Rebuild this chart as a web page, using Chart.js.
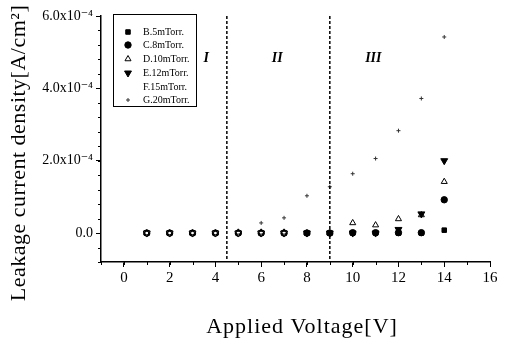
<!DOCTYPE html>
<html><head><meta charset="utf-8">
<script src="https://cdn.jsdelivr.net/npm/chart.js@4.4.1/dist/chart.umd.min.js"></script>
<style>html,body{margin:0;padding:0;background:#fff}#wrap{width:505px;height:342px}</style>
</head><body><div id="wrap"><canvas id="c" width="505" height="342"></canvas></div>
<script>
const voltages = [1,2,3,4,5,6,7,8,9,10,11,12,13,14];
const seriesNames = ['B.5mTorr.','C.8mTorr.','D.10mTorr.','E.12mTorr.','F.15mTorr.','G.20mTorr.'];
const seriesB = [0,0,0,0,0,0,0,0,0,0,0,0,0,0.08e-4];
const seriesC = [0,0,0,0,0,0,0,0,0,0.01e-4,0.01e-4,0.01e-4,0.01e-4,0.92e-4];
const seriesD = [0,0,0,0,0.02e-4,0.02e-4,0.02e-4,0,0,0.28e-4,0.22e-4,0.39e-4,0.5e-4,1.42e-4];
const seriesE = [0,0,0,0,0,0,0,0,0,0,0,0.1e-4,0.53e-4,2.0e-4];
const seriesF = [0,0,0,0,0,0,0,null,null,null,null,null,null,null];
const seriesG = [0,0,0,0,0,0.28e-4,0.42e-4,1.03e-4,1.28e-4,1.64e-4,2.06e-4,2.83e-4,3.72e-4,5.42e-4];
const xTicks = [0,2,4,6,8,10,12,14,16];
const yTicks = [0,2e-4,4e-4,6e-4];
const yTickLabels = ['0.0','2.0x10\u207B\u2074','4.0x10\u207B\u2074','6.0x10\u207B\u2074'];
const regionBounds = [4.5, 9];
const regionLabels = [['I',3.6],['II',6.7],['III',10.9]];

const styles = [
  {pointStyle:'rect', radius:3.2, bg:'#000', bc:'#000', rot:0, order:5},
  {pointStyle:'circle', radius:3.2, bg:'#000', bc:'#000', rot:0, order:4},
  {pointStyle:'triangle', radius:3.5, bg:'rgba(255,255,255,0)', bc:'#000', rot:0, order:0},
  {pointStyle:'triangle', radius:4, bg:'#000', bc:'#000', rot:180, order:3},
  {pointStyle:'triangle', radius:3.5, bg:'#fff', bc:'#000', rot:180, order:1},
  {pointStyle:'cross', radius:2, bg:'#000', bc:'#333', rot:0, order:2}
];
const legendMarkerColor = ['#000','#000','#000','#000','#fff','#333'];
const allSeries = [seriesB, seriesC, seriesD, seriesE, seriesF, seriesG];

const datasets = allSeries.map((s,i)=>({
  label: seriesNames[i],
  order: styles[i].order,
  data: voltages.map((v,j)=>({x:v, y:s[j]})),
  pointStyle: styles[i].pointStyle,
  pointRadius: styles[i].radius,
  pointBackgroundColor: styles[i].bg,
  pointBorderColor: styles[i].bc,
  pointBorderWidth: 1,
  pointRotation: styles[i].rot,
  showLine: false
}));

const SERIF = '"Liberation Serif", "DejaVu Serif", serif';

const overlay = {
  id:'overlay',
  afterDraw(chart){
    const ctx = chart.ctx, xs = chart.scales.x, ys = chart.scales.y, a = chart.chartArea;
    ctx.save();
    // minor ticks
    ctx.strokeStyle='#000'; ctx.lineWidth=1;
    for(let v=-0.8e-4; v<=6e-4+1e-9; v+=0.4e-4){
      const y = Math.round(ys.getPixelForValue(v))+0.5;
      ctx.beginPath(); ctx.moveTo(a.left-3,y); ctx.lineTo(a.left,y); ctx.stroke();
    }
    for(let v=-1; v<=16; v+=1){
      const x = Math.round(xs.getPixelForValue(v))+0.5;
      ctx.beginPath(); ctx.moveTo(x,a.bottom); ctx.lineTo(x,a.bottom+3); ctx.stroke();
    }
    // dashed region lines
    ctx.setLineDash([3,2]); ctx.lineWidth=1.5;
    regionBounds.forEach(b=>{
      const x = xs.getPixelForValue(b);
      ctx.beginPath(); ctx.moveTo(x,a.top); ctx.lineTo(x,a.bottom); ctx.stroke();
    });
    ctx.setLineDash([]);
    // region labels
    ctx.fillStyle='#000'; ctx.font='italic bold 14px '+SERIF;
    ctx.textAlign='center'; ctx.textBaseline='middle';
    regionLabels.forEach(([t,v])=>{ ctx.fillText(t, xs.getPixelForValue(v), 58); });
    // legend
    ctx.lineWidth=1; ctx.strokeStyle='#000'; ctx.strokeRect(113.5,14.5,83,92);
    const rows=[32,45,59,73,87,100];
    ctx.font='10px '+SERIF; ctx.textAlign='left';
    rows.forEach((ry,i)=>{
      const st=styles[i];
      ctx.fillStyle=st.bg; ctx.strokeStyle=legendMarkerColor[i];
      Chart.helpers.drawPoint(ctx,{pointStyle:st.pointStyle, radius:st.radius, rotation:st.rot, borderWidth:1}, 128, ry);
      ctx.fillStyle='#000';
      ctx.fillText(seriesNames[i], 143, ry+0.5);
    });
    // axis titles
    ctx.fillStyle='#000';
    ctx.textAlign='center'; ctx.textBaseline='middle';
    ctx.font='22px '+SERIF;
    ctx.letterSpacing='1px';
    ctx.fillText('Applied Voltage[V]', 302, 327);
    ctx.letterSpacing='0.5px';
    ctx.translate(19,153); ctx.rotate(-Math.PI/2);
    ctx.fillText('Leakage current density[A/cm\u00B2]', 0, 0);
    ctx.restore();
  }
};

new Chart(document.getElementById('c'), {
  type:'scatter',
  data:{datasets},
  plugins:[overlay],
  options:{
    responsive:false, animation:false, devicePixelRatio:1,
    layout:{padding:{left:0,right:15,top:16,bottom:0}},
    plugins:{legend:{display:false}, tooltip:{enabled:false}},
    scales:{
      x:{type:'linear', min:-1, max:16,
        afterBuildTicks(s){ s.ticks = xTicks.map(v=>({value:v})); },
        afterFit(s){ s.height = 80; },
        grid:{drawOnChartArea:false, drawTicks:true, tickLength:5, color:'#000', lineWidth:1},
        border:{display:true, color:'#000', width:1.5},
        ticks:{color:'#000', font:{family:SERIF, size:15}, padding:2, maxRotation:0,
          callback:(v)=>String(v)}
      },
      y:{type:'linear', min:-0.8e-4, max:6e-4,
        afterBuildTicks(s){ s.ticks = yTicks.map(v=>({value:v})); },
        afterFit(s){ s.width = 101; },
        grid:{drawOnChartArea:false, drawTicks:true, tickLength:5, color:'#000', lineWidth:1},
        border:{display:true, color:'#000', width:1.5},
        ticks:{color:'#000', font:{family:SERIF, size:14}, padding:3,
          callback:(v)=>{ const i = yTicks.findIndex(t=>Math.abs(t-v)<1e-9); return i>=0 ? yTickLabels[i] : ''; }}
      }
    }
  }
});
</script></body></html>
